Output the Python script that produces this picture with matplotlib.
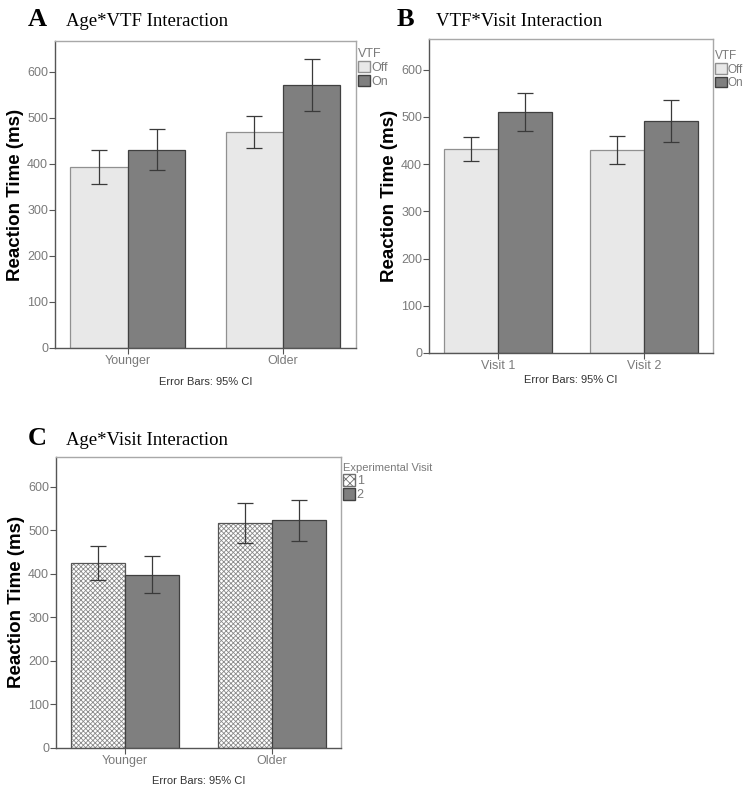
import numpy as np
import matplotlib.pyplot as plt
from matplotlib.patches import Patch

# Panel A: Age x VTF
age_groups = ["Younger", "Older"]
a_off = [393, 470]
a_off_lo = [357, 435]
a_off_hi = [430, 505]
a_on = [430, 571]
a_on_lo = [386, 515]
a_on_hi = [475, 627]

# Panel B: VTF x Visit
visits = ["Visit 1", "Visit 2"]
b_off = [432, 430]
b_off_lo = [406, 401]
b_off_hi = [458, 460]
b_on = [510, 491]
b_on_lo = [470, 447]
b_on_hi = [550, 535]

# Panel C: Age x Visit
c_v1 = [425, 517]
c_v1_lo = [385, 472]
c_v1_hi = [465, 562]
c_v2 = [398, 523]
c_v2_lo = [357, 476]
c_v2_hi = [440, 570]

yticks = [0, 100, 200, 300, 400, 500, 600]

LIGHT = "#e8e8e8"
DARK = "#7f7f7f"
GRAY_TXT = "#7a7a7a"
FRAME = "#a8a8a8"
ERR = "#3a3a3a"

plt.rcParams["font.family"] = ["Liberation Sans", "DejaVu Sans"]
plt.rcParams["hatch.linewidth"] = 0.6


def style_axes(ax, cats, ylim_top):
    ax.set_xlim(-0.47, 1.47)
    ax.set_ylim(0, ylim_top)
    ax.set_xticks([0, 1])
    ax.set_xticklabels(cats, color=GRAY_TXT, fontsize=9)
    ax.set_yticks(yticks)
    ax.set_yticklabels([str(t) for t in yticks], color=GRAY_TXT, fontsize=9)
    ax.tick_params(axis="both", length=4, width=0.8, color="#555555", pad=1)
    for s in ax.spines.values():
        s.set_color(FRAME)
        s.set_linewidth(1.0)
    ax.spines["left"].set_color("#555555")
    ax.spines["bottom"].set_color("#555555")
    ax.set_ylabel("Reaction Time (ms)", fontsize=13.5, fontweight="bold",
                  labelpad=2)


def err(ax, x, lo, hi):
    y = [(l + h) / 2 for l, h in zip(lo, hi)]
    e = [[yy - l for yy, l in zip(y, lo)], [h - yy for yy, h in zip(y, hi)]]
    ax.errorbar(x, y, yerr=e, fmt="none", ecolor=ERR, elinewidth=0.9,
                capsize=6, capthick=0.9)


def panel_title(fig, x, y, letter, text):
    fig.text(x, y, letter, fontsize=19, fontweight="bold",
             family="Liberation Serif", va="baseline")
    fig.text(x + 0.052, y, text, fontsize=13.5, family="Liberation Serif",
             va="baseline")


def add_legend(ax, handles, title, anchor_y, size=9, title_size=9):
    leg = ax.legend(handles=handles, title=title, loc="upper left",
                    bbox_to_anchor=(1.0, anchor_y), frameon=False,
                    fontsize=size, title_fontsize=title_size,
                    handlelength=1.0, handleheight=1.0, handletextpad=0.1,
                    borderpad=0.1, borderaxespad=0.05, labelspacing=0.1,
                    labelcolor=GRAY_TXT, alignment="left")
    leg.get_title().set_color(GRAY_TXT)


fig = plt.figure(figsize=(7.45, 7.89), dpi=100)
w = 0.37
x = np.arange(2)

# A
axA = fig.add_axes([0.0738, 0.559, 0.404, 0.389])
axA.bar(x - w / 2, a_off, w, color=LIGHT, edgecolor="#909090", linewidth=0.9)
axA.bar(x + w / 2, a_on, w, color=DARK, edgecolor="#404040", linewidth=0.9)
err(axA, x - w / 2, a_off_lo, a_off_hi)
err(axA, x + w / 2, a_on_lo, a_on_hi)
style_axes(axA, age_groups, 667)
add_legend(axA, [Patch(facecolor=LIGHT, edgecolor="#909090", label="Off"),
                 Patch(facecolor=DARK, edgecolor="#404040", label="On")],
           "VTF", 0.985)
axA.text(0.5, -0.11, "Error Bars: 95% CI", transform=axA.transAxes,
         ha="center", va="center", fontsize=8, color="#333333")
panel_title(fig, 0.037, 0.967, "A", "Age*VTF Interaction")

# B
axB = fig.add_axes([0.576, 0.5526, 0.381, 0.398])
axB.bar(x - w / 2, b_off, w, color=LIGHT, edgecolor="#909090", linewidth=0.9)
axB.bar(x + w / 2, b_on, w, color=DARK, edgecolor="#404040", linewidth=0.9)
err(axB, x - w / 2, b_off_lo, b_off_hi)
err(axB, x + w / 2, b_on_lo, b_on_hi)
style_axes(axB, visits, 665)
add_legend(axB, [Patch(facecolor=LIGHT, edgecolor="#909090", label="Off"),
                 Patch(facecolor=DARK, edgecolor="#404040", label="On")],
           "VTF", 0.97, size=8.5, title_size=8.5)
axB.text(0.5, -0.085, "Error Bars: 95% CI", transform=axB.transAxes,
         ha="center", va="center", fontsize=8, color="#333333")
panel_title(fig, 0.533, 0.967, "B", "VTF*Visit Interaction")

# C
axC = fig.add_axes([0.0752, 0.052, 0.3826, 0.369])
axC.bar(x - w / 2, c_v1, w, color="white", edgecolor="#8a8a8a",
        hatch="xxxxxxx", linewidth=0)
axC.bar(x - w / 2, c_v1, w, fill=False, edgecolor="#555555", linewidth=0.9)
axC.bar(x + w / 2, c_v2, w, color=DARK, edgecolor="#404040", linewidth=0.9)
err(axC, x - w / 2, c_v1_lo, c_v1_hi)
err(axC, x + w / 2, c_v2_lo, c_v2_hi)
style_axes(axC, age_groups, 669)
add_legend(axC, [Patch(facecolor="white", edgecolor="#707070",
                       hatch="xxxx", label="1"),
                 Patch(facecolor=DARK, edgecolor="#404040", label="2")],
           "Experimental Visit", 0.985, title_size=8)
axC.text(0.5, -0.115, "Error Bars: 95% CI", transform=axC.transAxes,
         ha="center", va="center", fontsize=8, color="#333333")
panel_title(fig, 0.037, 0.436, "C", "Age*Visit Interaction")

fig.savefig("out.png", dpi=100)
